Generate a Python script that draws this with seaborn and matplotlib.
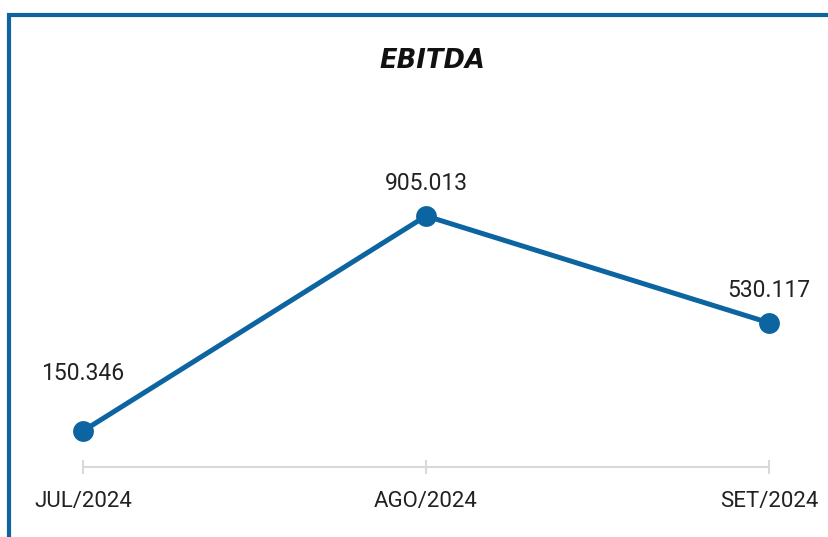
import numpy as np
import matplotlib.pyplot as plt
import matplotlib.patches as mpatches
import pandas as pd
import seaborn as sns

# data
months = ['JUL/2024', 'AGO/2024', 'SET/2024']
ebitda = [150.346, 905.013, 530.117]
labels = ['150.346', '905.013', '530.117']

df = pd.DataFrame({'pos': range(len(months)), 'ebitda': ebitda})

sns.set_theme(style='white')
plt.rcParams['font.family'] = ['Roboto', 'DejaVu Sans']

blue = '#0c64a0'

fig = plt.figure(figsize=(8.29, 5.37), dpi=100)
ax = fig.add_axes([83 / 829, 70 / 537, 686 / 829, 367 / 537])

sns.lineplot(data=df, x='pos', y='ebitda', ax=ax, color=blue, linewidth=3.6,
             marker='o', markersize=15, markeredgewidth=0, clip_on=False)

# value labels
offsets = [36.5, 18.5, 18.5]
for i, v in enumerate(ebitda):
    ax.annotate(labels[i], (i, v), xytext=(0, offsets[i]), textcoords='offset points',
                ha='center', va='baseline', fontsize=16.5, color='#222222')

ax.set_xlim(0, 2)
ax.set_ylim(24, 1312)
ax.set_xticks(range(len(months)))
ax.set_xticklabels(months, fontsize=16, color='#222222')
ax.set_yticks([])
ax.set_xlabel('')
ax.set_ylabel('')
for s in ['top', 'right', 'left']:
    ax.spines[s].set_visible(False)
ax.spines['bottom'].set_color('#d9d9d9')
ax.spines['bottom'].set_linewidth(1.5)
ax.tick_params(axis='x', bottom=True, length=5, width=1.5, color='#d9d9d9',
               direction='inout', pad=14.5)
for t in ax.get_xticklines():
    t.set_markersize(10)

fig.text(432 / 829, 1 - 61 / 537, 'EBITDA', ha='center', va='center',
         fontsize=18.5, fontweight='bold', fontstyle='italic', color='#111111',
         family='DejaVu Sans')

# frame around the card (left and top edges visible)
fig.patches.append(mpatches.Rectangle((9.5 / 829, -0.1), 1.2, 1 - 14.5 / 537 + 0.1,
                                      transform=fig.transFigure, fill=False,
                                      edgecolor='#0f64a0', linewidth=3))

fig.savefig('out.png', dpi=100)
